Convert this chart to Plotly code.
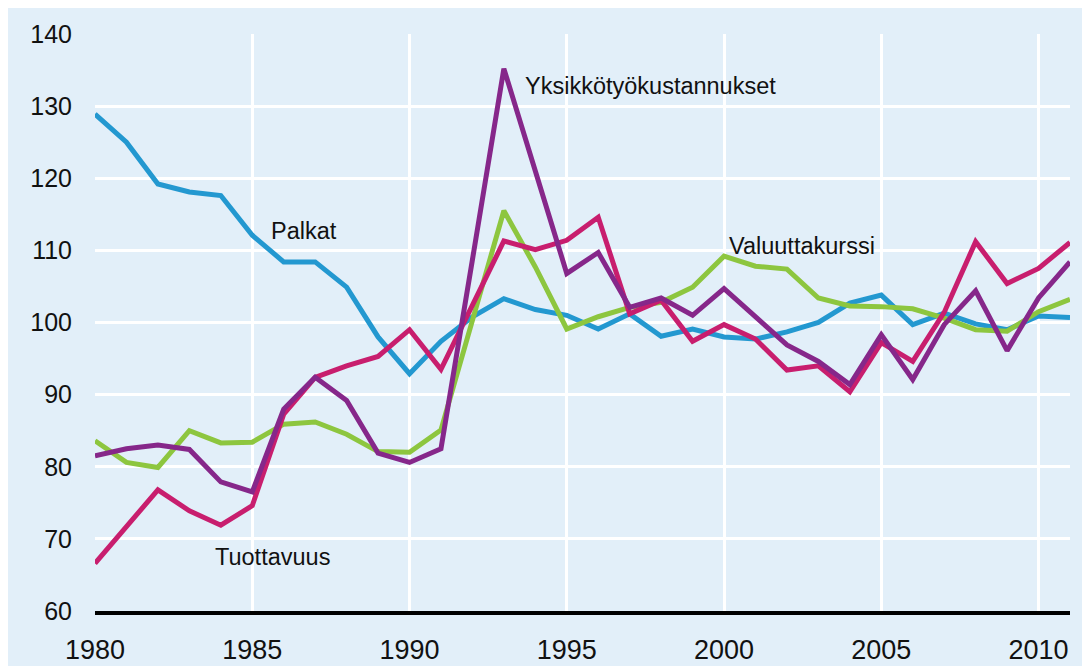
import plotly.graph_objects as go

years = list(range(1980, 2012))

palkat = [128.9, 125.0, 119.2, 118.1, 117.6, 112.1, 108.4, 108.4, 104.9, 98.0,
          92.9, 97.4, 100.8, 103.3, 101.8, 101.0, 99.1, 101.2, 98.1, 99.1,
          98.0, 97.7, 98.7, 100.0, 102.7, 103.8, 99.7, 101.3, 99.8, 99.0,
          100.9, 100.7]

valuuttakurssi = [83.6, 80.6, 79.9, 85.0, 83.3, 83.4, 85.9, 86.2, 84.5, 82.1,
                  82.0, 85.1, 100.3, 115.5, 107.7, 99.1, 100.8, 102.1, 102.8, 104.9,
                  109.2, 107.8, 107.4, 103.4, 102.3, 102.2, 101.9, 100.6, 99.0, 98.8,
                  101.5, 103.2]

tuottavuus = [66.6, 71.8, 76.8, 73.9, 71.9, 74.6, 87.3, 92.4, 94.0, 95.3,
              99.0, 93.5, 102.4, 111.3, 110.1, 111.4, 114.6, 101.2, 103.1, 97.4,
              99.7, 97.7, 93.4, 94.0, 90.4, 97.2, 94.6, 101.4, 111.2, 105.4,
              107.5, 111.1]

yksikko = [81.5, 82.5, 83.0, 82.4, 77.9, 76.5, 88.0, 92.4, 89.2, 81.9,
           80.6, 82.5, 108.7, 135.2, 121.0, 106.8, 109.7, 102.1, 103.4, 101.0,
           104.7, 100.9, 96.9, 94.6, 91.4, 98.3, 92.1, 99.7, 104.4, 96.1,
           103.4, 108.4]

series = [
    ("Palkat", palkat, "#2398D0"),
    ("Valuuttakurssi", valuuttakurssi, "#8DC63F"),
    ("Tuottavuus", tuottavuus, "#C81E6E"),
    ("Yksikkötyökustannukset", yksikko, "#86278A"),
]

labels = [
    ("Palkat", 1985.52, 112.75),
    ("Yksikkötyökustannukset", 1993.62, 132.8),
    ("Valuuttakurssi", 2000.11, 110.55),
    ("Tuottavuus", 1983.75, 67.5),
]

x_ticks = [1980, 1985, 1990, 1995, 2000, 2005, 2010]
y_ticks = [60, 70, 80, 90, 100, 110, 120, 130, 140]

BG = "#E2EFF9"
FONT = "Liberation Sans, Arial, sans-serif"

fig = go.Figure()
for name, vals, color in series:
    fig.add_trace(go.Scatter(x=years, y=vals, mode="lines", name=name,
                             line=dict(color=color, width=5),
                             showlegend=False, hoverinfo="skip"))

for text, x, y in labels:
    fig.add_annotation(x=x, y=y, text=text, showarrow=False, xanchor="left",
                       yanchor="middle", font=dict(size=23.5, color="#111111", family=FONT))

fig.update_layout(
    width=1082, height=658,
    margin=dict(l=87, r=20, t=26, b=55, autoexpand=False),
    paper_bgcolor=BG,
    plot_bgcolor=BG,
    font=dict(family=FONT, size=25, color="#111111"),
)
fig.update_xaxes(range=[1980, 2011], tickvals=x_ticks, ticktext=[str(v) for v in x_ticks],
                 showgrid=True, gridcolor="white", gridwidth=3, zeroline=False,
                 showline=True, linecolor="black", linewidth=4, automargin=False,
                 ticks="", ticklabelstandoff=12, tickfont=dict(size=27))
fig.update_yaxes(range=[60, 140], tickvals=y_ticks, ticktext=[str(v) for v in y_ticks],
                 showgrid=True, gridcolor="white", gridwidth=3, zeroline=False,
                 showline=False, ticks="", ticklabelstandoff=22, automargin=False,
                 tickfont=dict(size=25))

fig.write_html("out.html")
